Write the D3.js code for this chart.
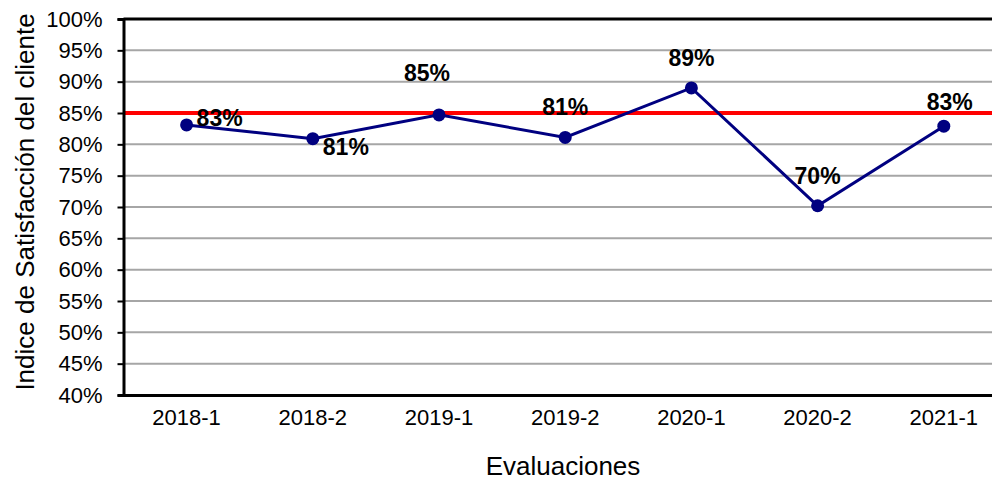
<!DOCTYPE html>
<html>
<head>
<meta charset="utf-8">
<script src="https://cdn.jsdelivr.net/npm/d3@7"></script>
<style>
  body { margin: 0; background: #fff; }
  svg { display: block; font-family: "Liberation Sans", Arial, sans-serif; }
</style>
</head>
<body>
<svg width="992" height="481"></svg>
<script>
  // Data
  const periods = ['2018-1', '2018-2', '2019-1', '2019-2', '2020-1', '2020-2', '2021-1'];
  const satisfaction = [83.1, 80.9, 84.7, 81.1, 89.0, 70.2, 82.9];
  const pointLabels = ['83%', '81%', '85%', '81%', '89%', '70%', '83%'];
  const target = 85;
  const yTicks = [40, 45, 50, 55, 60, 65, 70, 75, 80, 85, 90, 95, 100];

  // Label placement (dx, dy of baseline from point), as moved by hand in the original
  const labelNudge = [[10, 1, 'start'], [10, 16, 'start'], [-12, -34, 'middle'], [0, -22, 'middle'],
                      [0, -22, 'middle'], [0, -22, 'middle'], [6, -16, 'middle']];

  const svg = d3.select('svg');
  const margin = { left: 123.5, top: 19 };
  const innerW = 7 * 126.2;
  const innerH = 376;

  const g = svg.append('g').attr('transform', `translate(${margin.left},${margin.top})`);

  const x = d3.scaleBand().domain(periods).range([0, innerW]);
  const y = d3.scaleLinear().domain([40, 100]).range([innerH, 0]);

  // Gridlines
  g.append('g')
    .selectAll('line')
    .data(yTicks.filter(t => t > 40 && t < 100))
    .enter().append('line')
      .attr('x1', 0).attr('x2', innerW)
      .attr('y1', d => y(d)).attr('y2', d => y(d))
      .attr('stroke', '#a6a6a6')
      .attr('stroke-width', 2);

  // Plot border top
  g.append('line')
    .attr('x1', 0).attr('x2', innerW)
    .attr('y1', 0).attr('y2', 0)
    .attr('stroke', '#000').attr('stroke-width', 3);

  // Target line
  g.append('line')
    .attr('x1', 0).attr('x2', innerW)
    .attr('y1', y(target)).attr('y2', y(target))
    .attr('stroke', '#ff0000').attr('stroke-width', 4);

  // Y axis
  const yAxis = g.append('g')
    .call(d3.axisLeft(y).tickValues(yTicks).tickFormat(d => d + '%').tickSize(6).tickPadding(15));
  yAxis.select('.domain').attr('stroke', '#000').attr('stroke-width', 3);
  yAxis.selectAll('.tick line').attr('stroke', '#000').attr('stroke-width', 2);
  yAxis.selectAll('.tick text').attr('font-size', 22).attr('fill', '#000');
  yAxis.attr('font-family', null);

  // X axis
  const xAxis = g.append('g')
    .attr('transform', `translate(0,${innerH})`)
    .call(d3.axisBottom(x).tickSize(0).tickPadding(14));
  xAxis.select('.domain').attr('stroke', '#000').attr('stroke-width', 3);
  xAxis.selectAll('.tick text').attr('font-size', 22).attr('fill', '#000');
  xAxis.attr('font-family', null);

  // Series line
  const cx = d => x(d) + x.bandwidth() / 2;
  const line = d3.line()
    .x((d, i) => cx(periods[i]))
    .y(d => y(d));

  g.append('path')
    .datum(satisfaction)
    .attr('d', line)
    .attr('fill', 'none')
    .attr('stroke', '#000080')
    .attr('stroke-width', 3);

  g.selectAll('.dot')
    .data(satisfaction)
    .enter().append('circle')
      .attr('class', 'dot')
      .attr('cx', (d, i) => cx(periods[i]))
      .attr('cy', d => y(d))
      .attr('r', 6.5)
      .attr('fill', '#000080');

  // Data labels
  g.selectAll('.lbl')
    .data(satisfaction)
    .enter().append('text')
      .attr('class', 'lbl')
      .attr('x', (d, i) => cx(periods[i]) + labelNudge[i][0])
      .attr('y', (d, i) => y(d) + labelNudge[i][1])
      .attr('text-anchor', (d, i) => labelNudge[i][2])
      .attr('font-size', 23)
      .attr('font-weight', 'bold')
      .text((d, i) => pointLabels[i]);

  // Axis titles
  svg.append('text')
    .attr('x', 563)
    .attr('y', 475)
    .attr('text-anchor', 'middle')
    .attr('font-size', 26)
    .text('Evaluaciones');

  svg.append('text')
    .attr('transform', 'translate(34,202) rotate(-90)')
    .attr('text-anchor', 'middle')
    .attr('font-size', 26)
    .text('Indice de Satisfacción del cliente');
</script>
</body>
</html>
